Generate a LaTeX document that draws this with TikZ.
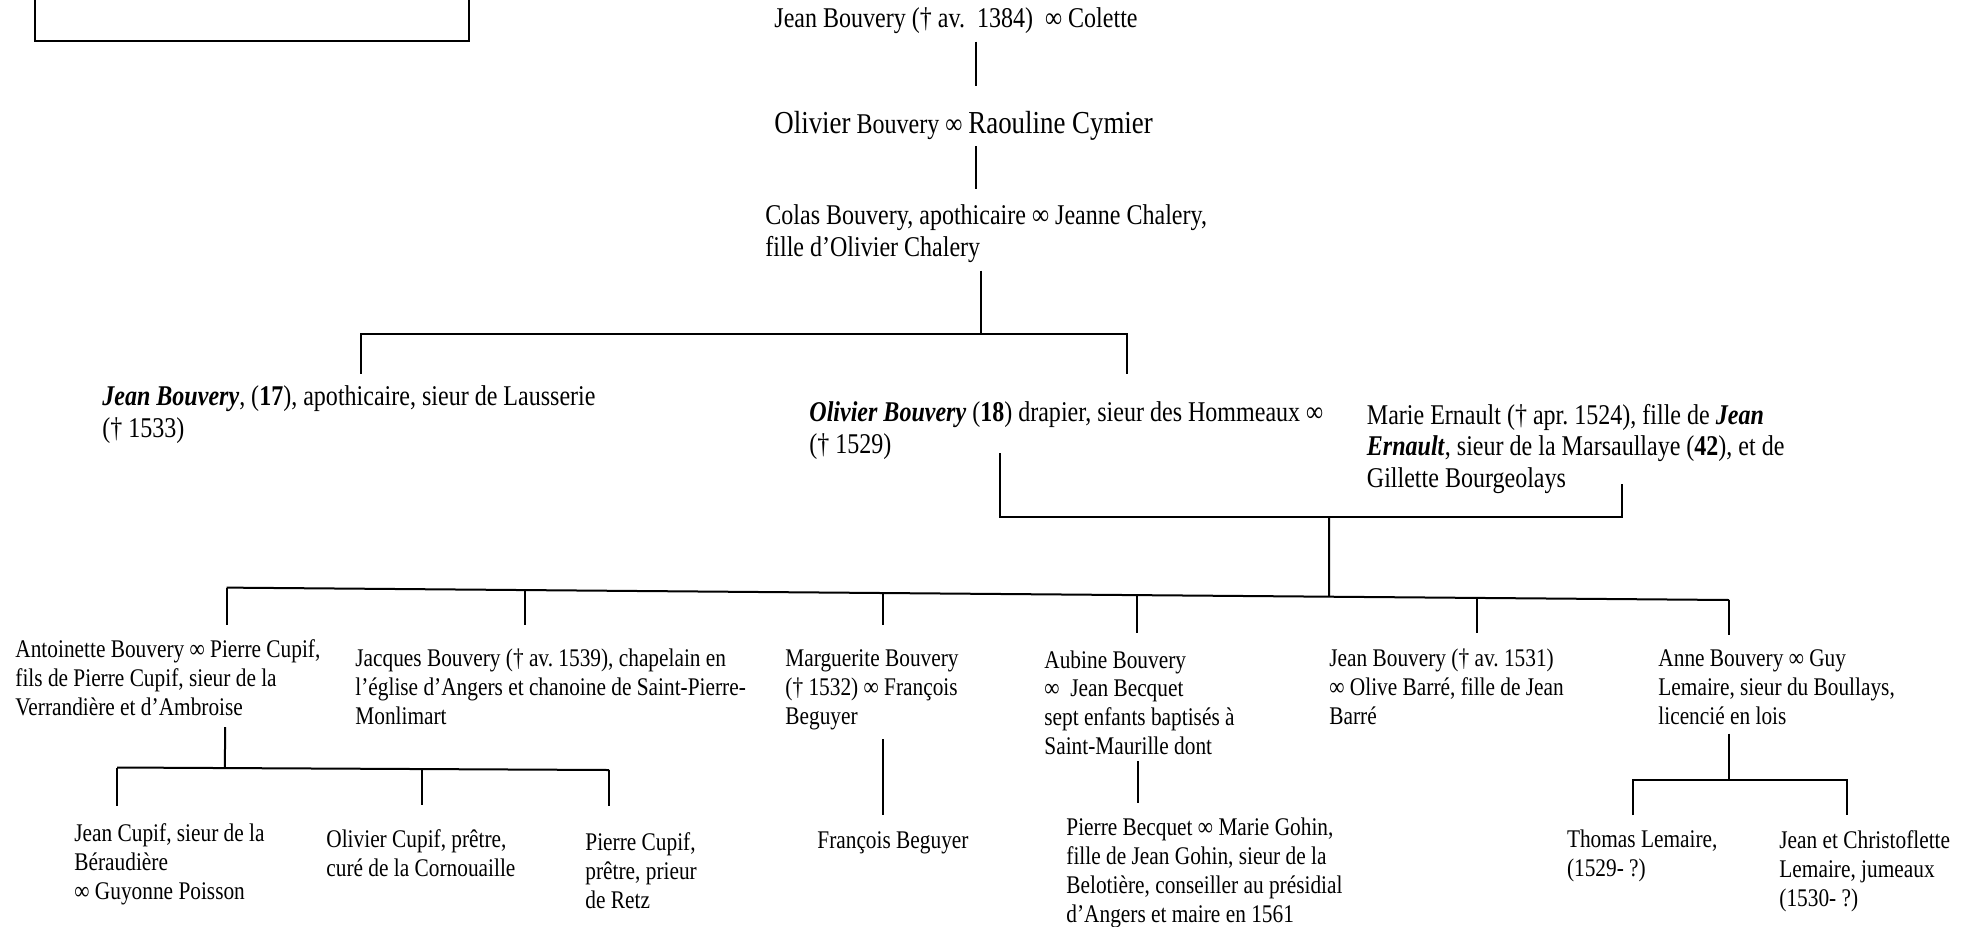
\documentclass[tikz,border=0pt]{standalone}
\usepackage{fontspec}
\setmainfont{Liberation Serif}[FakeStretch=0.84]
\usetikzlibrary{positioning, calc}
\frenchspacing
\newcommand{\gros}[1]{{\fontsize{16}{16}\selectfont #1}}
\newcommand{\nom}[1]{\textbf{\textit{#1}}}
\tikzset{
  person/.style={anchor=base west, inner sep=0pt, align=left, font=\fontsize{14.3}{15.8}\selectfont},
  kid/.style={anchor=base west, inner sep=0pt, align=left, font=\fontsize{12.7}{14.4}\selectfont},
  link/.style={line width=1pt, black}
}

\begin{document}
\begin{tikzpicture}[x=0.5pt, y=-0.5pt]
    \useasboundingbox (0,0) rectangle (1973,926);
    \clip (0,0) rectangle (1973,926);

    \node (cadre) [draw, line width=1pt, minimum width=217pt, minimum height=40pt, anchor=south west] at (34,41.5) {};

    % ascendants (base = last line)
    \node (jean0) [person] at (774,27) {Jean Bouvery († av.\ \ 1384)\ \ ∞ Colette};
    \node (olivier0) [person] at (774,133) {\gros{Olivier} Bouvery ∞ \gros{Raouline Cymier}};
    \node (colas) [person] at (765,256.5) {Colas Bouvery, apothicaire ∞ Jeanne Chalery,\\fille d’Olivier Chalery};
    \node (jean17) [person] at (102,437) {\nom{Jean Bouvery}, (\textbf{17}), apothicaire, sieur de Lausserie\\(† 1533)};
    \node (olivier18) [person] at (809,453.5) {\nom{Olivier Bouvery} (\textbf{18}) drapier, sieur des Hommeaux ∞\\(† 1529)};
    \node (marie) [person] at (1366.5,487.5) {Marie Ernault († apr. 1524), fille de \nom{Jean}\\\nom{Ernault}, sieur de la Marsaullaye (\textbf{42}), et de\\Gillette Bourgeolays};

    % enfants
    \node (antoinette) [kid] at (15,715.5) {Antoinette Bouvery ∞ Pierre Cupif,\\fils de Pierre Cupif, sieur de la\\Verrandière et d’Ambroise};
    \node (jacques) [kid] at (355,724.5) {Jacques Bouvery († av. 1539), chapelain en\\l’église d’Angers et chanoine de Saint-Pierre-\\Monlimart};
    \node (marguerite) [kid] at (785,724.5) {Marguerite Bouvery\\(† 1532) ∞ François\\Beguyer};
    \node (aubine) [kid] at (1044,754.5) {Aubine Bouvery\\∞\ \ Jean Becquet\\sept enfants baptisés à\\Saint-Maurille dont};
    \node (jean1531) [kid] at (1329,724.5) {Jean Bouvery († av. 1531)\\∞ Olive Barré, fille de Jean\\Barré};
    \node (anne) [kid] at (1658,724.5) {Anne Bouvery ∞ Guy\\Lemaire, sieur du Boullays,\\licencié en lois};

    % petits-enfants
    \node (jeancupif) [kid] at (74,899.5) {Jean Cupif, sieur de la\\Béraudière\\∞ Guyonne Poisson};
    \node (oliviercupif) [kid] at (326,876.5) {Olivier Cupif, prêtre,\\curé de la Cornouaille};
    \node (pierrecupif) [kid] at (585,908.5) {Pierre Cupif,\\prêtre, prieur\\de Retz};
    \node (francois) [kid] at (817,848.5) {François Beguyer};
    \node (pierrebecquet) [kid] at (1066,922) {Pierre Becquet ∞ Marie Gohin,\\fille de Jean Gohin, sieur de la\\Belotière, conseiller au présidial\\d’Angers et maire en 1561};
    \node (thomas) [kid] at (1566.6,876.5) {Thomas Lemaire,\\(1529- ?)};
    \node (jeanchristo) [kid] at (1779,906.5) {Jean et Christoflette\\Lemaire, jumeaux\\(1530- ?)};

    % liens
    \coordinate (g1a) at (976,41.5);
    \coordinate (g1b) at (976,85.6);
    \coordinate (g2a) at (976,146);
    \coordinate (g2b) at (976,189);
    \coordinate (g3a) at (981,270.5);
    \coordinate (g3b) at (981,333.5);
    \coordinate (fr1L) at (361,333.5);
    \coordinate (fr1R) at (1127,333.5);
    \coordinate (cpL) at (1000,453);
    \coordinate (cpR) at (1622,484);
    \coordinate (cpM) at (1329,517);
    \coordinate (sibL) at (226.5,587.6);
    \coordinate (sibR) at (1729,600);
    \coordinate (antA) at (225,727);
    \coordinate (cupL) at (117,767.5);
    \coordinate (cupR) at (609,770);
    \coordinate (margA) at (883,739);
    \coordinate (aubA) at (1137.5,761);
    \coordinate (anneA) at (1729,733.6);
    \coordinate (lemL) at (1633,780);
    \coordinate (lemR) at (1847,780);

    \draw[link] (g1a) -- (g1b);
    \draw[link] (g2a) -- (g2b);
    \draw[link] (g3a) -- (g3b);
    \draw[link] ($(fr1L)+(0,40)$) -- (fr1L) -- (fr1R) -- ($(fr1R)+(0,40)$);
    \draw[link] (cpL) -- (cpL |- cpM) -- (cpR |- cpM) -- (cpR);
    \draw[link] (cpM) -- ($(sibL)!0.7338!(sibR)$);
    \draw[link] (sibL) -- (sibR);
    \draw[link] (sibL) -- ++(0,37);
    \draw[link] ($(sibL)!0.1985!(sibR)$) -- ++(0,35);
    \draw[link] ($(sibL)!0.4369!(sibR)$) -- ++(0,32);
    \draw[link] ($(sibL)!0.6063!(sibR)$) -- ++(0,38);
    \draw[link] ($(sibL)!0.8321!(sibR)$) -- ++(0,35);
    \draw[link] (sibR) -- ++(0,35);
    \draw[link] (antA) -- ($(cupL)!0.2195!(cupR)$);
    \draw[link] (cupL) -- (cupR);
    \draw[link] (cupL) -- ++(0,38);
    \draw[link] ($(cupL)!0.6189!(cupR)$) -- ++(0,36);
    \draw[link] (cupR) -- ++(0,36);
    \draw[link] (margA) -- ++(0,76);
    \draw[link] (aubA) -- ++(0,42);
    \draw[link] (anneA) -- (anneA |- lemL);
    \draw[link] ($(lemL)+(0,35)$) -- (lemL) -- (lemR) -- ($(lemR)+(0,35)$);
\end{tikzpicture}
\end{document}
